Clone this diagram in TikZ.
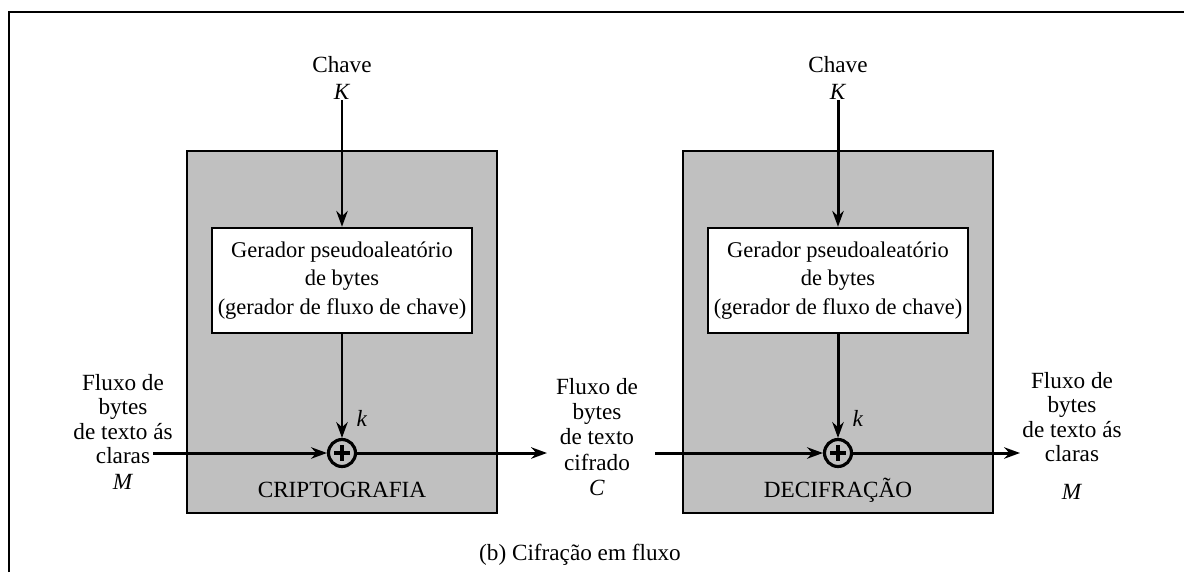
\documentclass[tikz,border=0pt]{standalone}
\usepackage{fontspec}
\setmainfont{Liberation Serif}
\usetikzlibrary{arrows.meta}
\definecolor{boxgray}{RGB}{192,192,192}
\begin{document}
\begin{tikzpicture}[x=0.02cm,y=-0.02cm,
  every node/.style={font=\fontsize{13.2}{13.8}\selectfont, inner sep=0pt},
  stage/.style={draw, line width=1.4pt, fill=boxgray, minimum width=6.2cm, minimum height=7.24cm},
  genbox/.style={draw, line width=1.4pt, fill=white, minimum width=5.2cm, minimum height=2.1cm,
    align=center, font=\fontsize{12.8}{16}\selectfont},
  xorop/.style={draw, circle, line width=1.8pt, minimum size=0.54cm},
  flow/.style={line width=1.7pt, -{Stealth[length=9pt,width=6.5pt]}},
  lbl/.style={align=center}]
\useasboundingbox (0,0) rectangle (1184,572);
% frame
\draw[line width=1.5pt] (9,572) -- (9,12) -- (1184,12);

% encryption side
\node[stage] (encbox) at (342,332) {};
\node[genbox] (gen1) at (342,280.5) {Gerador pseudoaleatório\\de bytes\\(gerador de fluxo de chave)};
\node[lbl, font=\fontsize{13.2}{15.5}\selectfont] (key1) at (342,78) {Chave\\\textit{K}};
\node[xorop] (x1) at (342,453) {};
\draw[line width=1.8pt] (x1) ++(-8,0) -- ++(16,0) (x1) ++(0,-8) -- ++(0,16);
\node (k1) at (362,418) {\textit{k}};
\node (enc) at (342,490) {CRIPTOGRAFIA};

% decryption side
\node[stage] (decbox) at (838,332) {};
\node[genbox] (gen2) at (838,280.5) {Gerador pseudoaleatório\\de bytes\\(gerador de fluxo de chave)};
\node[lbl, font=\fontsize{13.2}{15.5}\selectfont] (key2) at (838,78) {Chave\\\textit{K}};
\node[xorop] (x2) at (838,453) {};
\draw[line width=1.8pt] (x2) ++(-8,0) -- ++(16,0) (x2) ++(0,-8) -- ++(0,16);
\node (k2) at (858,418) {\textit{k}};
\node (dec) at (838,490) {DECIFRAÇÃO};

% stream labels
\node[lbl] (plain1) at (123,432) {Fluxo de\\bytes\\de texto ás\\claras\\[1pt]\textit{M}};
\node[lbl, font=\fontsize{13.2}{14.4}\selectfont] (ciph) at (597,437) {Fluxo de\\bytes\\de texto\\cifrado\\\textit{C}};
\node[lbl] (plain2) at (1072,436) {Fluxo de\\bytes\\de texto ás\\claras\\[8pt]\textit{M}};
\node (cap) at (580,555) {(b) Cifração em fluxo};

\coordinate (inL) at (153,453);
\coordinate (outL) at (547,453);
\coordinate (inR) at (655,453);
\coordinate (outR) at (1020,453);

% connectors
\draw[flow] (key1) -- (gen1);
\draw[flow] (gen1) -- (x1);
\draw[flow] (inL) -- (x1);
\draw[flow] (x1) -- (outL);
\draw[flow] (key2) -- (gen2);
\draw[flow] (gen2) -- (x2);
\draw[flow] (inR) -- (x2);
\draw[flow] (x2) -- (outR);
\end{tikzpicture}
\end{document}
